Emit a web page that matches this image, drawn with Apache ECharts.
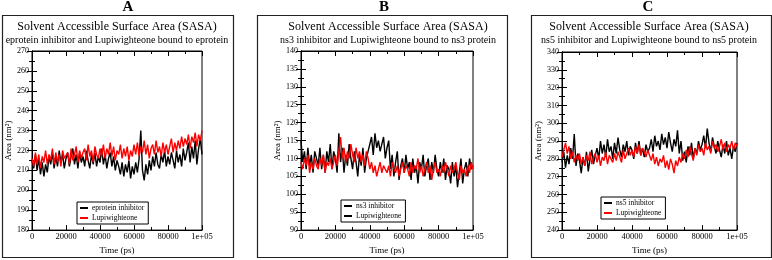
<!DOCTYPE html>
<html>
<head>
<meta charset="UTF-8">
<title>SASA</title>
<script src="https://cdn.jsdelivr.net/npm/echarts@6/dist/echarts.min.js"></script>
<style>
  html, body { margin: 0; padding: 0; background: #fff; }
  #chart { width: 772px; height: 260px; }
</style>
</head>
<body>
<div id="chart"></div>
<script>
// panel A: eprotein
const aBlack = [215,211,218,210,216,208,214,207,213,209,217,
  213,219,211,217,212,220,214,218,211,216,
  219,212,217,221,213,218,211,219,214,217,
  212,220,215,211,218,213,219,212,217,214,
  221,213,218,211,216,219,212,217,210,215,
  212,208,214,207,213,209,215,206,212,208,
  214,209,216,230,210,205,213,208,215,210,
  217,212,219,213,211,218,214,220,212,217,
  213,219,215,211,220,214,218,212,221,215,
  219,224,214,222,216,225,213,221,226,218];
const aRed = [216,212,219,213,218,211,217,214,220,213,218,
  215,221,213,219,214,218,212,220,216,215,
  219,213,221,215,218,222,214,220,216,219,
  221,215,223,217,220,214,222,218,216,221,
  217,223,216,221,218,224,217,222,215,220,
  218,223,216,221,217,222,215,220,217,223,
  218,224,217,222,219,225,218,223,216,221,
  223,218,225,219,222,217,224,219,223,218,
  222,226,219,224,220,225,221,227,222,226,
  223,228,221,227,224,229,222,228,225,230];

// panel B: ns3
const bBlack = [115,109,112,107,113,108,111,106,112,110,
  108,113,107,111,106,112,109,114,107,112,
  110,106,117,109,113,106,111,108,114,110,
  107,112,109,105,111,108,113,106,110,112,
  112,116,111,117,113,115,112,114,116,110,
  113,115,107,111,105,109,112,104,108,110,
  106,111,107,109,104,110,106,108,103,109,
  107,111,105,108,110,104,109,106,111,107,
  105,109,106,110,104,108,107,103,109,105,
  108,102,106,110,103,107,109,105,110,107,108];
const bRed = [109,107,110,108,111,106,109,107,110,108,
  107,110,108,111,106,109,108,110,107,109,
  111,108,112,116,110,113,109,112,110,114,
  111,109,113,110,112,109,111,108,112,110,
  107,109,106,108,105,107,109,106,108,107,
  106,108,105,109,107,106,108,105,107,109,
  106,108,107,105,109,106,108,107,110,106,
  108,105,107,109,106,108,104,107,109,106,
  107,105,108,106,109,107,105,108,106,107,
  109,106,104,108,106,107,105,108,106,109,107];

// panel C: ns5
const cBlack = [278,284,275,282,277,286,280,294,276,283,
  279,272,281,276,284,273,280,285,277,282,
  286,280,290,283,288,281,291,284,287,280,
  289,283,292,285,281,288,284,290,282,287,
  285,280,289,283,290,282,286,281,288,284,
  286,291,284,293,287,290,285,294,288,292,
  286,295,289,284,291,287,296,283,290,279,
  284,278,287,282,289,280,286,283,290,285,
  288,293,286,297,289,284,292,287,283,290,
  285,281,288,283,290,282,286,280,287,284,289];
const cRed = [281,285,289,283,287,280,284,278,282,279,
  283,277,281,276,282,279,284,277,281,283,
  278,282,276,281,279,284,277,282,280,278,
  283,279,284,281,278,285,280,283,286,282,
  285,281,287,283,288,282,286,284,281,285,
  282,279,283,277,281,276,280,278,282,275,
  279,274,280,277,272,279,276,281,278,283,
  280,285,281,287,283,279,286,282,288,284,
  286,282,289,285,287,283,290,286,288,284,
  287,291,285,289,284,288,286,290,285,289,287];

const letters = ['A', 'B', 'C'];
const mainTitle = 'Solvent Accessible Surface Area (SASA)';
const subTitles = [
  'eprotein inhibitor and Lupiwighteone bound to eprotein',
  'ns3 inhibitor and Lupiwighteone bound to ns3 protein',
  'ns5 inhibitor and Lupiwighteone bound to ns5 protein'
];
const inhibitorNames = ['eprotein inhibitor', 'ns3 inhibitor', 'ns5 inhibitor'];
const ligandName = 'Lupiwighteone';
const yRanges = [[180, 270, 10], [90, 140, 5], [240, 340, 10]];
const timeMax = 100000;

const serif = 'Liberation Serif';

// layout per panel
const panels = [
  { data: [aBlack, aRed], box: [2, 15, 231, 242], grid: [32, 51, 170, 186], cx: 117, letterX: 128, nameGap: 18, legend: [77, 202] },
  { data: [bBlack, bRed], box: [257, 15, 250, 242], grid: [301, 51, 172, 186], cx: 388, letterX: 384, nameGap: 17, legend: [341, 200] },
  { data: [cBlack, cRed], box: [531, 15, 240, 242], grid: [562, 52, 175, 187], cx: 649, letterX: 648, nameGap: 17, legend: [601, 197] }
];

function pairs(vals) {
  const step = timeMax / (vals.length - 1);
  return vals.map((v, i) => [i * step, v]);
}

const tickStyle = { inside: true, length: 5, lineStyle: { color: '#000', width: 1 } };
const minorStyle = { show: true, splitNumber: 2, length: 3, lineStyle: { color: '#000', width: 1 } };
const lineStyle = { show: true, lineStyle: { color: '#000', width: 1 } };

const option = {
  backgroundColor: '#fff',
  animation: false,
  title: [],
  grid: [],
  xAxis: [],
  yAxis: [],
  legend: [],
  series: [],
  graphic: []
};

panels.forEach((p, k) => {
  const [ymin, ymax, yint] = yRanges[k];
  option.graphic.push({
    type: 'rect',
    shape: { x: p.box[0] + 0.5, y: p.box[1] + 0.5, width: p.box[2], height: p.box[3] },
    style: { fill: 'none', stroke: '#222', lineWidth: 1.2 },
    silent: true
  });
  option.title.push({
    text: letters[k], left: p.letterX, top: 0, textAlign: 'center', padding: 0,
    textStyle: { fontFamily: serif, fontSize: 15, fontWeight: 'bold', color: '#000' }
  });
  option.title.push({
    text: mainTitle, subtext: subTitles[k], left: p.cx, top: 21, textAlign: 'center',
    itemGap: 2, padding: 0,
    textStyle: { fontFamily: serif, fontSize: 12, fontWeight: 'normal', color: '#000' },
    subtextStyle: { fontFamily: serif, fontSize: 10, color: '#000' }
  });
  option.grid.push({
    left: p.grid[0], top: p.grid[1], width: p.grid[2], height: p.grid[3],
    show: true, borderColor: '#000', borderWidth: 1, backgroundColor: '#fff'
  });
  // bottom / left axes with labels
  option.xAxis.push({
    type: 'value', gridIndex: k, min: 0, max: timeMax, interval: 20000,
    name: 'Time (ps)', nameLocation: 'middle', nameGap: 10,
    nameTextStyle: { fontFamily: serif, fontSize: 9, color: '#000' },
    axisLine: lineStyle, axisTick: tickStyle, minorTick: minorStyle,
    splitLine: { show: false },
    axisLabel: {
      fontFamily: serif, fontSize: 8.5, color: '#000', margin: 2,
      formatter: v => (v === timeMax ? '1e+05' : String(v))
    }
  });
  option.yAxis.push({
    type: 'value', gridIndex: k, min: ymin, max: ymax, interval: yint,
    name: 'Area (nm\u00b2)', nameLocation: 'middle', nameGap: p.nameGap,
    nameTextStyle: { fontFamily: serif, fontSize: 9, color: '#000' },
    axisLine: lineStyle, axisTick: tickStyle, minorTick: minorStyle,
    splitLine: { show: false },
    axisLabel: { fontFamily: serif, fontSize: 8, color: '#000', margin: 3 }
  });
  // mirrored ticks on top / right
  option.xAxis.push({
    type: 'value', gridIndex: k, position: 'top', min: 0, max: timeMax, interval: 20000,
    axisLine: lineStyle, axisTick: tickStyle, minorTick: minorStyle,
    splitLine: { show: false }, axisLabel: { show: false }
  });
  option.yAxis.push({
    type: 'value', gridIndex: k, position: 'right', min: ymin, max: ymax, interval: yint,
    axisLine: lineStyle, axisTick: tickStyle, minorTick: minorStyle,
    splitLine: { show: false }, axisLabel: { show: false }
  });
  const xi = k * 2, yi = k * 2;
  option.series.push({
    name: inhibitorNames[k], type: 'line', xAxisIndex: xi, yAxisIndex: yi,
    data: pairs(p.data[0]), showSymbol: false, symbol: 'none',
    lineStyle: { color: '#000', width: 1.4 }, itemStyle: { color: '#000' }
  });
  option.series.push({
    name: ligandName, type: 'line', xAxisIndex: xi, yAxisIndex: yi,
    data: pairs(p.data[1]), showSymbol: false, symbol: 'none',
    lineStyle: { color: '#ff0000', width: 1.4 }, itemStyle: { color: '#ff0000' }
  });
  option.legend.push({
    left: p.legend[0], top: p.legend[1], orient: 'vertical',
    data: [
      { name: inhibitorNames[k], itemStyle: { color: '#000' } },
      { name: ligandName, itemStyle: { color: k === 1 ? '#000' : '#ff0000' } }
    ],
    icon: 'rect', itemWidth: 8, itemHeight: 2, itemGap: 2,
    padding: [2, 4, 2, 3], borderColor: '#000', borderWidth: 1,
    backgroundColor: '#fff', selectedMode: false,
    textStyle: { fontFamily: serif, fontSize: 7.5, color: '#000', padding: [0, 0, 0, -1] }
  });
});

const chart = echarts.init(document.getElementById('chart'));
chart.setOption(option);
window.addEventListener('resize', () => chart.resize());
</script>
</body>
</html>
